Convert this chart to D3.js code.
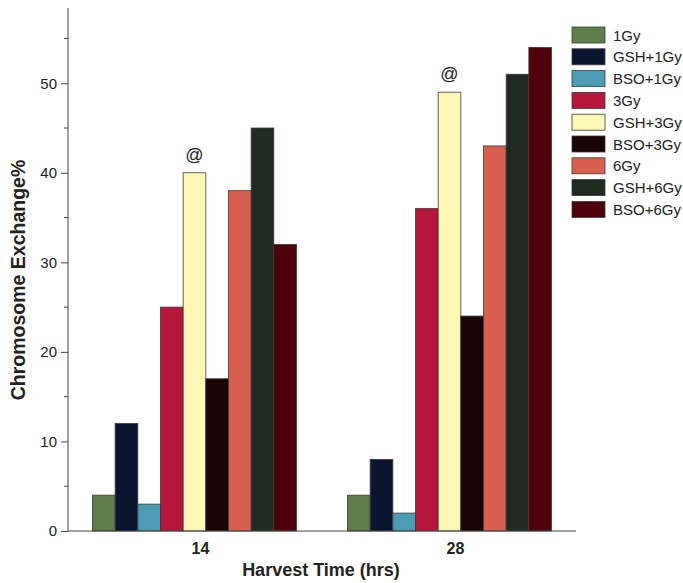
<!DOCTYPE html>
<html>
<head>
<meta charset="utf-8">
<script src="https://cdn.jsdelivr.net/npm/d3@7"></script>
<style>
  body { margin: 0; background: #fff; }
  text { font-family: "Liberation Sans", Arial, sans-serif; }
</style>
</head>
<body>
<div id="chart"></div>
<script>
var groups = ["14", "28"];
var series = ["1Gy", "GSH+1Gy", "BSO+1Gy", "3Gy", "GSH+3Gy", "BSO+3Gy", "6Gy", "GSH+6Gy", "BSO+6Gy"];
var values14 = [4, 12, 3, 25, 40, 17, 38, 45, 32];
var values28 = [4, 8, 2, 36, 49, 24, 43, 51, 54];
var colors = ["#5e7f4a", "#0b1530", "#4c9db3", "#b5173a", "#fff8b4", "#1a0506", "#d9604f", "#1f2a20", "#4d0009"];
var marked = "GSH+3Gy";
var yTicks = [0, 10, 20, 30, 40, 50];
var yMinor = [5, 15, 25, 35, 45, 55];

var width = 683, height = 583;
var margin = {top: 8, left: 68, bottom: 52, right: 107};

var svg = d3.select("#chart").append("svg")
  .attr("width", width)
  .attr("height", height);

var x0 = d3.scaleBand().domain(groups)
  .range([margin.left, width - margin.right])
  .paddingInner(0.2).paddingOuter(0.096);
var x1 = d3.scaleBand().domain(series).range([0, x0.bandwidth()]);
var y = d3.scaleLinear().domain([0, 58.4]).range([height - margin.bottom, margin.top]);

var data = groups.map(function(g, gi) {
  var vals = gi == 0 ? values14 : values28;
  return {group: g, vals: series.map(function(s, i) { return {key: s, value: vals[i], color: colors[i]}; })};
});

// bars
var g = svg.selectAll("g.grp").data(data).enter().append("g")
  .attr("class", "grp")
  .attr("transform", function(d) { return "translate(" + x0(d.group) + ",0)"; });

g.selectAll("rect").data(function(d) { return d.vals; }).enter().append("rect")
  .attr("x", function(d) { return x1(d.key); })
  .attr("y", function(d) { return y(d.value); })
  .attr("width", x1.bandwidth())
  .attr("height", function(d) { return y(0) - y(d.value); })
  .style("fill", function(d) { return d.color; })
  .style("stroke", "#3a3a3a")
  .style("stroke-width", 0.8);

g.selectAll("text.mark").data(function(d) { return d.vals.filter(function(v) { return v.key == marked; }); })
  .enter().append("text")
  .attr("class", "mark")
  .attr("x", function(d) { return x1(d.key) + x1.bandwidth() / 2; })
  .attr("y", function(d) { return y(d.value) - 12; })
  .attr("text-anchor", "middle")
  .style("font-size", "18px")
  .style("fill", "#222")
  .text("@");

// y axis
var yAxis = d3.axisLeft(y).tickValues(yTicks).tickSize(7).tickPadding(4);
var ya = svg.append("g")
  .attr("transform", "translate(" + margin.left + ",0)")
  .call(yAxis);
ya.select(".domain").remove();
ya.append("line")
  .attr("x1", 0).attr("x2", 0)
  .attr("y1", y(0)).attr("y2", y(58.4))
  .style("stroke", "#444");
ya.selectAll(".tick line").style("stroke", "#444");
ya.selectAll(".tick text")
  .style("font-size", "15px")
  .style("fill", "#222");
ya.selectAll(".minor").data(yMinor).enter().append("line")
  .attr("class", "minor")
  .attr("x1", -4).attr("x2", 0)
  .attr("y1", function(d) { return y(d); })
  .attr("y2", function(d) { return y(d); })
  .style("stroke", "#444");

// x axis
var xAxis = d3.axisBottom(x0).tickSize(0).tickPadding(12);
var xa = svg.append("g")
  .attr("transform", "translate(0," + y(0) + ")")
  .call(xAxis);
xa.select(".domain").remove();
xa.append("line")
  .attr("x1", margin.left).attr("x2", width - margin.right)
  .style("stroke", "#444");
xa.selectAll(".tick text")
  .attr("dx", 6)
  .style("font-size", "16px")
  .style("font-weight", "bold")
  .style("fill", "#222");

// axis titles
svg.append("text")
  .attr("x", 321)
  .attr("y", 576)
  .attr("text-anchor", "middle")
  .style("font-size", "18px")
  .style("font-weight", "bold")
  .style("fill", "#222")
  .text("Harvest Time (hrs)");

svg.append("text")
  .attr("transform", "translate(25,280) rotate(-90)")
  .attr("text-anchor", "middle")
  .style("font-size", "19.5px")
  .style("font-weight", "bold")
  .style("fill", "#222")
  .text("Chromosome Exchange%");

// legend
var legend = svg.append("g").attr("transform", "translate(572,27)");
var item = legend.selectAll("g").data(series).enter().append("g")
  .attr("transform", function(d, i) { return "translate(0," + (i * 21.8) + ")"; });
item.append("rect")
  .attr("width", 33).attr("height", 16)
  .style("fill", function(d, i) { return colors[i]; })
  .style("stroke", "#3a3a3a")
  .style("stroke-width", 0.8);
item.append("text")
  .attr("x", 41).attr("y", 13.5)
  .style("font-size", "15px")
  .style("fill", "#222")
  .text(function(d) { return d; });
</script>
</body>
</html>
